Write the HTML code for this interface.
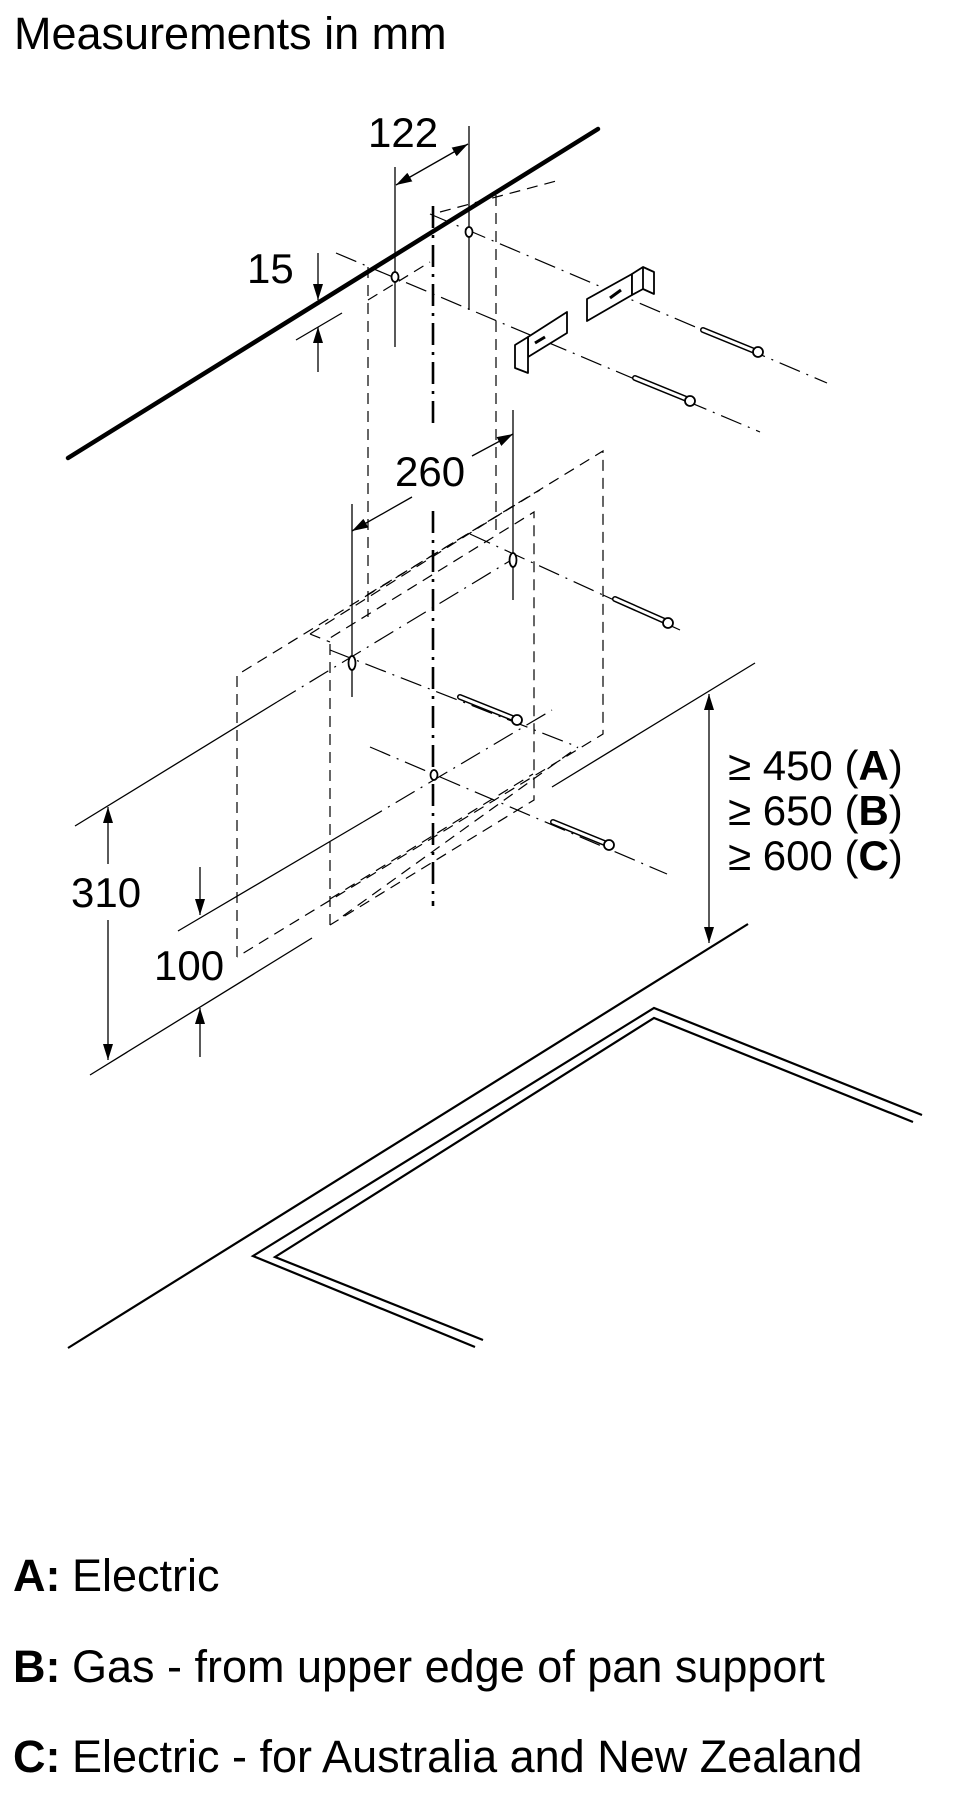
<!DOCTYPE html>
<html><head><meta charset="utf-8"><style>
html,body{margin:0;padding:0;background:#fff;}
svg{display:block;}
text{font-family:"Liberation Sans",Arial,sans-serif;fill:#000;}
</style></head><body>
<svg width="967" height="1800" viewBox="0 0 967 1800" xmlns="http://www.w3.org/2000/svg">
<defs>
<marker id="ah" viewBox="0 0 16 10" refX="16" refY="5" markerWidth="16" markerHeight="10" markerUnits="userSpaceOnUse" orient="auto-start-reverse"><path d="M0,0 L16,5 L0,10 z" fill="#000"/></marker>
</defs>
<text x="14" y="49" font-size="45">Measurements in mm</text>

<line x1="68" y1="458" x2="598" y2="129" stroke="#000" stroke-width="4.5" stroke-linecap="round"/>

<g stroke="#000" fill="none" stroke-width="1.3">
<line x1="395" y1="167" x2="395" y2="347"/>
<line x1="469" y1="126" x2="469" y2="310"/>
<line x1="396" y1="185" x2="468" y2="144" marker-start="url(#ah)" marker-end="url(#ah)"/>
<line x1="318" y1="253" x2="318" y2="300" marker-end="url(#ah)"/>
<line x1="318" y1="372" x2="318" y2="327" marker-end="url(#ah)"/>
<line x1="296" y1="340" x2="342" y2="313"/>
<line x1="513" y1="410" x2="513" y2="600"/>
<line x1="352" y1="504" x2="352" y2="697"/>
<line x1="412" y1="497" x2="352" y2="531" marker-end="url(#ah)"/>
<line x1="472" y1="456" x2="513" y2="434" marker-end="url(#ah)"/>
<line x1="75" y1="826" x2="277" y2="702"/>
<line x1="108" y1="864" x2="108" y2="807" marker-end="url(#ah)"/>
<line x1="108" y1="920" x2="108" y2="1060" marker-end="url(#ah)"/>
<line x1="90" y1="1075" x2="312" y2="938"/>
<line x1="178" y1="931" x2="363" y2="822"/>
<line x1="200" y1="867" x2="200" y2="915" marker-end="url(#ah)"/>
<line x1="200" y1="1057" x2="200" y2="1008" marker-end="url(#ah)"/>
<line x1="552" y1="787" x2="755" y2="663"/>
<line x1="709" y1="820" x2="709" y2="694" marker-end="url(#ah)"/>
<line x1="709" y1="820" x2="709" y2="943" marker-end="url(#ah)"/>
</g>

<g stroke="#000" fill="none" stroke-width="2.2">
<line x1="68" y1="1348" x2="748" y2="924"/>
<polyline points="475,1347 253,1256 654,1008 922,1115"/>
<polyline points="483,1340 275,1257 654,1018 913,1122"/>
</g>

<g stroke="#000" fill="none" stroke-width="1.2" stroke-dasharray="11 7">
<line x1="368" y1="267" x2="368" y2="617"/>
<line x1="496" y1="195" x2="496" y2="537"/>
<line x1="440" y1="212" x2="560" y2="180"/>
<line x1="368" y1="300" x2="430" y2="262"/>
<polyline points="237,957 237,675 603,451 603,734 237,957"/>
<polyline points="330,925 330,638 534,512 534,800 330,925"/>
<line x1="310" y1="634" x2="513" y2="506"/>
<line x1="367" y1="595" x2="540" y2="490"/>
<line x1="330" y1="899" x2="533" y2="774"/>
<line x1="343" y1="916" x2="578" y2="747"/>
<line x1="310" y1="634" x2="330" y2="642"/>
</g>

<g stroke="#000" fill="none" stroke-width="1.2" stroke-dasharray="22 7 2 7">
<line x1="430" y1="214" x2="827" y2="383"/>
<line x1="336" y1="253" x2="760" y2="432"/>
<line x1="470" y1="534" x2="603" y2="595"/>
<line x1="603" y1="595" x2="680" y2="630"/>
<line x1="330" y1="650" x2="578" y2="747"/>
<line x1="370" y1="747" x2="667" y2="874"/>
<line x1="277" y1="702" x2="513" y2="559"/>
<line x1="363" y1="822" x2="552" y2="710"/>
</g>
<g stroke="#000" fill="none" stroke-width="2.6" stroke-dasharray="22 7 3 7">
<line x1="433" y1="206" x2="433" y2="425"/>
<line x1="433" y1="511" x2="433" y2="906"/>
</g>

<g stroke="#000" fill="#fff" stroke-width="1.8">
<ellipse cx="395" cy="277" rx="3.5" ry="5"/>
<ellipse cx="469" cy="232" rx="3.5" ry="5"/>
<ellipse cx="513" cy="560" rx="3.5" ry="7"/>
<ellipse cx="352" cy="663" rx="3.5" ry="7"/>
<ellipse cx="434" cy="775" rx="3.5" ry="5"/>
</g>

<g stroke="#000" fill="#fff" stroke-width="1.8" stroke-linejoin="round">
<polygon points="587,299 632,274 632,295 587,321"/>
<polygon points="632,274 643,267 654,272 654,294 643,289 632,295"/>
<line x1="643" y1="267" x2="643" y2="289"/>
<line x1="610" y1="298" x2="621" y2="290" stroke-width="3"/>
<polygon points="528,337 567,312 567,333 528,357"/>
<polygon points="515,345 528,337 528,373 515,368"/>
<line x1="535" y1="343" x2="545" y2="337" stroke-width="3"/>
</g>

<g fill="none" stroke-linecap="round">
<g><line x1="703" y1="330" x2="757" y2="352" stroke="#000" stroke-width="6"/><line x1="703" y1="330" x2="757" y2="352" stroke="#fff" stroke-width="3"/><circle cx="758" cy="352" r="5" stroke="#000" stroke-width="1.8" fill="#fff"/></g>
<g><line x1="635" y1="378" x2="689" y2="400" stroke="#000" stroke-width="6"/><line x1="635" y1="378" x2="689" y2="400" stroke="#fff" stroke-width="3"/><circle cx="690" cy="401" r="5" stroke="#000" stroke-width="1.8" fill="#fff"/></g>
<g><line x1="615" y1="599" x2="667" y2="622" stroke="#000" stroke-width="6"/><line x1="615" y1="599" x2="667" y2="622" stroke="#fff" stroke-width="3"/><circle cx="668" cy="623" r="5" stroke="#000" stroke-width="1.8" fill="#fff"/></g>
<g><line x1="460" y1="697" x2="515" y2="719" stroke="#000" stroke-width="6"/><line x1="460" y1="697" x2="515" y2="719" stroke="#fff" stroke-width="3"/><circle cx="517" cy="720" r="5" stroke="#000" stroke-width="1.8" fill="#fff"/></g>
<g><line x1="553" y1="822" x2="607" y2="844" stroke="#000" stroke-width="6"/><line x1="553" y1="822" x2="607" y2="844" stroke="#fff" stroke-width="3"/><circle cx="609" cy="845" r="5" stroke="#000" stroke-width="1.8" fill="#fff"/></g>
</g>

<g font-size="42">
<rect x="366" y="114" width="74" height="36" fill="#fff"/>
<text x="368" y="147">122</text>
<text x="247" y="283">15</text>
<rect x="392" y="454" width="78" height="36" fill="#fff"/>
<text x="395" y="486">260</text>
<rect x="68" y="872" width="80" height="40" fill="#fff"/>
<text x="71" y="907">310</text>
<text x="154" y="980">100</text>
<text x="728" y="780">≥ 450 (<tspan font-weight="bold">A</tspan>)</text>
<text x="728" y="825">≥ 650 (<tspan font-weight="bold">B</tspan>)</text>
<text x="728" y="870">≥ 600 (<tspan font-weight="bold">C</tspan>)</text>
</g>

<g font-size="45">
<text x="13" y="1591"><tspan font-weight="bold">A:</tspan><tspan x="72">Electric</tspan></text>
<text x="13" y="1682"><tspan font-weight="bold">B:</tspan><tspan x="72">Gas - from upper edge of pan support</tspan></text>
<text x="13" y="1772"><tspan font-weight="bold">C:</tspan><tspan x="72">Electric - for Australia and New Zealand</tspan></text>
</g>
</svg>
</body></html>
